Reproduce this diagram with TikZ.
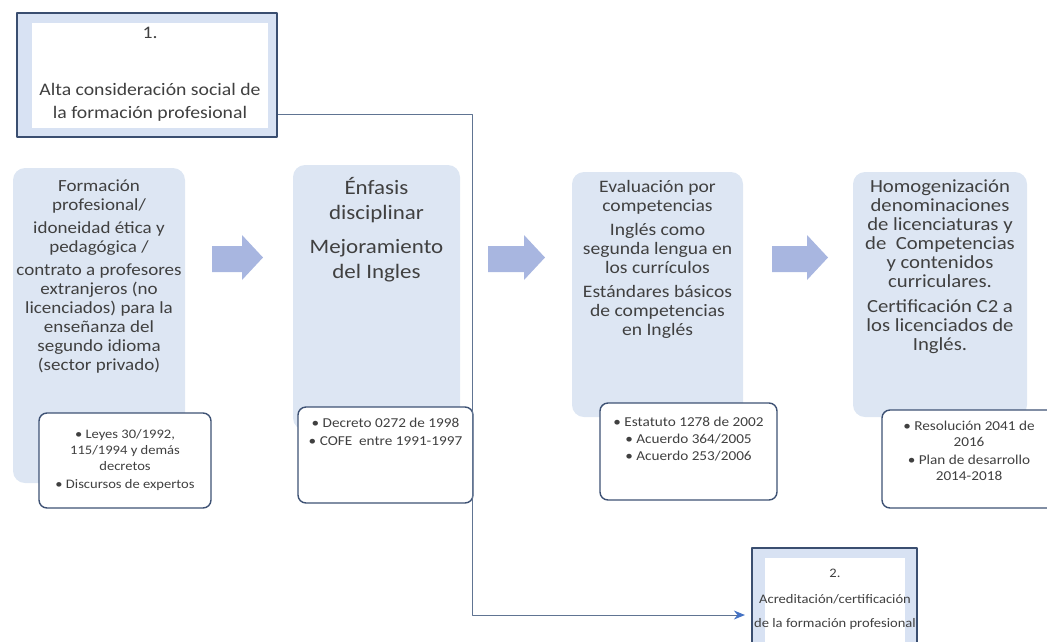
\documentclass[tikz,border=0pt]{standalone}
\usepackage{fontspec}
\setmainfont{Carlito}[FakeStretch=1.12]
\usetikzlibrary{arrows.meta}
\definecolor{boxfill}{RGB}{221,230,243}
\definecolor{bandfill}{RGB}{216,226,243}
\definecolor{frameline}{RGB}{58,78,112}
\definecolor{subline}{RGB}{62,82,116}
\definecolor{arrowfill}{RGB}{168,182,224}
\definecolor{txtgray}{RGB}{64,64,64}
\definecolor{linkline}{RGB}{96,116,146}
\definecolor{linkhead}{RGB}{68,114,196}
\tikzset{
  stagebox/.style={rectangle,rounded corners=12pt,fill=boxfill,inner sep=0pt},
  sourcebox/.style={rectangle,rounded corners=8pt,draw=subline,line width=1.4pt,fill=white,inner sep=0pt},
  framebox/.style={rectangle,draw=frameline,line width=2.2pt,fill=bandfill,inner sep=0pt},
  framein/.style={rectangle,fill=white,inner sep=0pt},
  stagetxt/.style={anchor=north,align=center,inner sep=0pt,text=txtgray},
  blockarrow/.style={fill=arrowfill},
  link/.style={draw=linkline,line width=1pt,-{Stealth[length=11pt,width=9pt,color=linkhead]},shorten >=6pt}
}
\begin{document}
\begin{tikzpicture}[x=1pt,y=-1pt,line join=round]
	\useasboundingbox (0,0) rectangle (1047,641);
	\clip (0,0) rectangle (1047,641);
	\node[framebox,minimum width=260pt,minimum height=124pt] (fr1) at (147,75) {};
	\node[framein,minimum width=236pt,minimum height=105pt] (fr1in) at (150,75.5) {};
	\node[stagetxt,font=\fontsize{17.6}{23}\selectfont,yshift=-4pt] (fr1txt) at (fr1in.north) {1.\\[34pt]Alta consideración social de\\la formación profesional};
	\node[framebox,minimum width=165pt,minimum height=104pt] (fr2) at (834.5,600) {};
	\node[framein,minimum width=140pt,minimum height=90pt] (fr2in) at (835,603) {};
	\node[stagetxt,font=\fontsize{13}{24}\selectfont,yshift=-11pt] (fr2txt) at (fr2in.north) {2.\\[2pt]Acreditación/certificación\\de la formación profesional};
	\node[stagebox,minimum width=172pt,minimum height=315pt] (fpA) at (99,325.5) {};
	\node[stagebox,minimum width=167pt,minimum height=265pt] (fpB) at (376.5,297.5) {};
	\node[stagebox,minimum width=171pt,minimum height=245pt] (fpC) at (657.5,294.5) {};
	\node[stagebox,minimum width=174pt,minimum height=245pt] (fpD) at (940,294.5) {};
	\node[stagetxt,font=\fontsize{17}{19}\selectfont,yshift=-12pt] (fpAtxt) at (fpA.north) {Formación\\profesional/\\[4pt]idoneidad ética y\\pedagógica /\\[4pt]contrato a profesores\\extranjeros (no\\licenciados) para la\\enseñanza del\\segundo idioma\\(sector privado)};
	\node[stagetxt,font=\fontsize{20.5}{25}\selectfont,yshift=-12pt] (fpBtxt) at (fpB.north) {Énfasis\\disciplinar\\[9pt]Mejoramiento\\del Ingles};
	\node[stagetxt,font=\fontsize{17.5}{19}\selectfont,yshift=-8.5pt] (fpCtxt) at (fpC.north) {Evaluación por\\competencias\\[5pt]Inglés como\\segunda lengua en\\los currículos\\[5pt]Estándares básicos\\de competencias\\en Inglés};
	\node[stagetxt,font=\fontsize{18.5}{19}\selectfont,yshift=-8pt] (fpDtxt) at (fpD.north) {Homogenización\\denominaciones\\de licenciaturas y\\de~ Competencias\\y contenidos\\curriculares.\\[6pt]Certificación C2 a\\los licenciados de\\Inglés.};
	\node[sourcebox,minimum width=172pt,minimum height=95pt] (srcA) at (125,460.5) {};
	\node[sourcebox,minimum width=175pt,minimum height=96pt] (srcB) at (385.5,455) {};
	\node[sourcebox,minimum width=177pt,minimum height=97pt] (srcC) at (688.5,451.5) {};
	\node[sourcebox,minimum width=174pt,minimum height=98pt] (srcD) at (969,459) {};
	\node[stagetxt,font=\fontsize{13}{16}\selectfont,yshift=-17pt] (srcAtxt) at (srcA.north) {• Leyes 30/1992,\\115/1994 y demás\\decretos\\[2pt]• Discursos de expertos};
	\node[stagetxt,font=\fontsize{13.6}{15}\selectfont,yshift=-12pt] (srcBtxt) at (srcB.north) {• Decreto 0272 de 1998\\[3pt]• COFE~ entre 1991-1997};
	\node[stagetxt,font=\fontsize{13.6}{15}\selectfont,yshift=-15pt] (srcCtxt) at (srcC.north) {• Estatuto 1278 de 2002\\[2pt]• Acuerdo 364/2005\\[2pt]• Acuerdo 253/2006};
	\node[stagetxt,font=\fontsize{13.6}{16}\selectfont,yshift=-12pt] (srcDtxt) at (srcD.north) {• Resolución 2041 de\\2016\\[2pt]• Plan de desarrollo\\2014-2018};
	\foreach \xa/\xb in {212/263,488/545,772/828}
		\fill[blockarrow] (\xa,246) -- (\xb-21,246) -- (\xb-21,235) -- (\xb,257.5) -- (\xb-21,280) -- (\xb-21,272) -- (\xa,272) -- cycle;
	\coordinate (c1) at (472,114);
	\coordinate (c2) at (472,615);
	\draw[link] (fr1.east |- c1) -- (c1) -- (c2) -- (fr2.west |- c2);
\end{tikzpicture}
\end{document}
